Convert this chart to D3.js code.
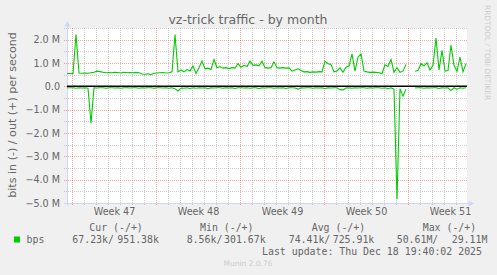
<!DOCTYPE html>
<html lang="en">
<head>
<meta charset="UTF-8">
<title>vz-trick traffic - by month</title>
<script src="https://d3js.org/d3.v7.min.js"></script>
<style>
  body { margin: 0; background: #f0f0f0; }
  svg { display: block; font-family: "DejaVu Sans", sans-serif; }
  .mono { font-family: "DejaVu Sans Mono", monospace; white-space: pre; }
</style>
</head>
<body>
<div class="main"></div>
<script>
  // samples every 6 hours from Sun 16 Nov 2025 14:00, in Mbit/s
  var startTime = new Date(2025, 10, 16, 14, 0);
  var stepHours = 6;
  var spanHours = 800;

  var outValues = [
    0.55, 0.55, 0.55, 2.22, 0.57, 0.56, 0.57, 0.56, 0.58, 0.60,
    0.65, 0.63, 0.60, 0.58, 0.59, 0.58, 0.60, 0.59, 0.57, 0.60,
    0.58, 0.59, 0.58, 0.60, 0.58, 0.53, 0.52, 0.54, 0.50, 0.56,
    0.57, 0.58, 0.59, 0.57, 0.58, 0.62, 2.22, 0.62, 0.70, 0.62,
    0.72, 0.66, 0.88, 0.55, 0.80, 1.08, 0.75, 0.78, 0.72, 1.15,
    0.80, 0.85, 0.78, 0.80, 0.76, 0.80, 0.78, 0.97, 0.82, 0.90,
    0.85, 1.08, 0.90, 0.92, 0.88, 1.08, 0.80, 0.78, 0.80, 1.05,
    0.80, 0.78, 0.80, 0.78, 0.79, 0.65, 0.70, 0.75, 0.68, 0.62,
    0.63, 0.60, 0.62, 0.61, 0.63, 0.62, 1.08, 0.97, 0.94, 0.62,
    0.66, 0.79, 0.60, 0.82, 0.87, 1.39, 0.65, 1.25, 1.39, 0.65,
    0.62, 0.60, 0.61, 0.60, 0.58, 0.55, 0.92, 0.85, 1.15, 0.60,
    0.80, 0.60, 0.65, 0.94, null, null, 0.65, 0.68, 0.97, 0.88,
    1.01, 0.70, 0.90, 2.07, 0.70, 1.54, 0.65, 0.68, 1.77, 0.90,
    0.64, 1.25, 0.62, 0.97
  ];

  // incoming traffic, drawn below zero
  var inValues = [
    0.06, 0.06, 0.06, 0.08, 0.06, 0.07, 0.06, 0.08, 1.58, 0.06,
    0.07, 0.06, 0.06, 0.08, 0.06, 0.06, 0.07, 0.06, 0.08, 0.06,
    0.06, 0.07, 0.06, 0.06, 0.08, 0.06, 0.07, 0.06, 0.06, 0.08,
    0.06, 0.06, 0.07, 0.06, 0.08, 0.06, 0.10, 0.20, 0.07, 0.08,
    0.06, 0.09, 0.06, 0.08, 0.06, 0.07, 0.06, 0.10, 0.06, 0.07,
    0.06, 0.06, 0.08, 0.06, 0.07, 0.06, 0.09, 0.06, 0.06, 0.07,
    0.06, 0.08, 0.06, 0.06, 0.10, 0.06, 0.07, 0.06, 0.06, 0.08,
    0.06, 0.07, 0.06, 0.09, 0.06, 0.06, 0.07, 0.12, 0.06, 0.07,
    0.06, 0.06, 0.08, 0.06, 0.07, 0.06, 0.10, 0.06, 0.07, 0.06,
    0.06, 0.14, 0.15, 0.07, 0.06, 0.08, 0.06, 0.07, 0.06, 0.06,
    0.08, 0.06, 0.07, 0.06, 0.06, 0.08, 0.06, 0.10, 0.06, 0.12,
    4.84, 0.10, 0.42, 0.12, null, null, 0.07, 0.06, 0.06, 0.08,
    0.06, 0.07, 0.06, 0.06, 0.09, 0.06, 0.07, 0.06, 0.18, 0.06,
    0.12, 0.06, 0.08, 0.06
  ];

  var yTicks = [2, 1, 0, -1, -2, -3, -4, -5];
  var weekLabels = ["Week 47", "Week 48", "Week 49", "Week 50", "Week 51"];
  var weekStarts = [new Date(2025, 10, 17), new Date(2025, 10, 24), new Date(2025, 11, 1),
                    new Date(2025, 11, 8), new Date(2025, 11, 15)];

  var legendHeaders = ["Cur (-/+)", "Min (-/+)", "Avg (-/+)", "Max (-/+)"];
  var legendIn = ["67.23k/", "8.56k/", "74.41k/", "50.61M/"];
  var legendOut = ["951.38k", "301.67k", "725.91k", "29.11M"];

  var width = 497, height = 275;
  var fontColor = "#666666";
  var lineColor = "#00cc00";

  var endTime = new Date(startTime.getTime() + spanHours * 3600e3);
  var x = d3.scaleTime().domain([startTime, endTime]).range([67, 467]);
  var y = d3.scaleLinear().domain([-5, 2.5]).range([203, 28]);

  function toPoints(values, sign) {
    return values.map(function (v, i) {
      return { t: new Date(startTime.getTime() + i * stepHours * 3600e3), v: v == null ? null : sign * v };
    });
  }

  var svg = d3.select(".main").append("svg")
    .attr("width", width).attr("height", height);

  svg.append("rect").attr("width", width).attr("height", height).attr("fill", "#f0f0f0");
  svg.append("rect").attr("x", 67).attr("y", 28).attr("width", 400).attr("height", 175).attr("fill", "#ffffff");

  // grid - half-million rows, day columns, red on whole millions / mondays
  var gridG = svg.append("g").attr("stroke-dasharray", "1,1").attr("stroke-width", 1);
  d3.range(-10, 6).forEach(function (k) {
    var v = k / 2;
    var major = Number.isInteger(v);
    gridG.append("line")
      .attr("x1", 64).attr("x2", 467)
      .attr("y1", Math.round(y(v)) + 0.5).attr("y2", Math.round(y(v)) + 0.5)
      .attr("stroke", major ? "rgba(255,0,0,0.37)" : "rgba(128,128,128,0.37)");
  });
  d3.timeDay.range(startTime, endTime).forEach(function (d) {
    var major = d.getDay() === 1;
    gridG.append("line")
      .attr("x1", Math.round(x(d)) + 0.5).attr("x2", Math.round(x(d)) + 0.5)
      .attr("y1", 28).attr("y2", 206)
      .attr("stroke", major ? "rgba(255,0,0,0.37)" : "rgba(128,128,128,0.37)");
  });

  // axes with arrows
  var axisColor = "#cfd6f8";
  svg.append("line").attr("x1", 67.5).attr("x2", 67.5).attr("y1", 206).attr("y2", 24).attr("stroke", axisColor);
  svg.append("path").attr("d", "M64.5,26.5L70.5,26.5L67.5,21Z").attr("fill", axisColor);
  svg.append("line").attr("x1", 64).attr("x2", 470).attr("y1", 203.5).attr("y2", 203.5).attr("stroke", axisColor);
  svg.append("path").attr("d", "M468.5,200.5L468.5,206.5L474,203.5Z").attr("fill", axisColor);

  // zero line
  svg.append("line").attr("x1", 67).attr("x2", 467)
    .attr("y1", y(0)).attr("y2", y(0))
    .attr("stroke", "#000000").attr("stroke-width", 1.5);

  var line = d3.line()
    .defined(function (d) { return d.v != null; })
    .x(function (d) { return x(d.t); })
    .y(function (d) { return y(d.v); });

  [toPoints(outValues, 1), toPoints(inValues, -1)].forEach(function (pts) {
    svg.append("path").datum(pts)
      .attr("d", line)
      .attr("fill", "none")
      .attr("stroke", lineColor)
      .attr("stroke-width", 1.1)
      .attr("stroke-linejoin", "miter");
  });

  // y axis labels
  var yAxis = d3.axisLeft(y).tickValues(yTicks).tickSize(0).tickPadding(7)
    .tickFormat(function (v) { return v === 0 ? "0.0" : d3.format(".1f")(v) + " M"; });
  var yG = svg.append("g").attr("transform", "translate(67,0)").call(yAxis);
  yG.select(".domain").remove();
  yG.selectAll("text").attr("fill", fontColor).style("font-size", "9.6px")
    .style("font-family", "'DejaVu Sans', sans-serif");

  // x axis week labels, centred in each week
  var weekMid = weekStarts.map(function (d) { return new Date(d.getTime() + 3.5 * 864e5); });
  var xAxis = d3.axisBottom(d3.scaleTime().domain(x.domain()).range(x.range()))
    .tickValues(weekMid).tickSize(0).tickPadding(5)
    .tickFormat(function (d, i) { return weekLabels[i]; });
  var xG = svg.append("g").attr("transform", "translate(0,203)").call(xAxis);
  xG.select(".domain").remove();
  xG.selectAll("text").attr("fill", fontColor).style("font-size", "9.6px")
    .style("font-family", "'DejaVu Sans', sans-serif");

  // titles
  svg.append("text").attr("x", 248).attr("y", 24).attr("text-anchor", "middle")
    .attr("fill", fontColor).style("font-size", "12.5px").text("vz-trick traffic - by month");
  svg.append("text").attr("transform", "translate(15.5,115) rotate(-90)").attr("text-anchor", "middle")
    .attr("fill", fontColor).style("font-size", "11.1px").text("bits in (-) / out (+) per second");
  svg.append("text").attr("transform", "translate(485,5) rotate(90)")
    .attr("fill", "#cccccc").style("font-size", "7.4px").text("RRDTOOL / TOBI OETIKER");

  // legend
  var headerX = [89.3, 200, 311.7, 422.7];
  var inX = [72.3, 186.7, 288.7, 396.7];
  var outX = [117.3, 224, 332.7, 451.7];
  var legG = svg.append("g").attr("class", "mono").attr("fill", fontColor).style("font-size", "9.9px");
  legendHeaders.forEach(function (h, i) {
    legG.append("text").attr("x", headerX[i]).attr("y", 230.5).text(h);
    legG.append("text").attr("x", inX[i]).attr("y", 242.5).text(legendIn[i]);
    legG.append("text").attr("x", outX[i]).attr("y", 242.5).text(legendOut[i]);
  });
  svg.append("rect").attr("x", 14).attr("y", 236.5).attr("width", 6).attr("height", 6).attr("fill", lineColor);
  legG.append("text").attr("x", 26.5).attr("y", 242.5).text("bps");
  legG.append("text").attr("x", 482).attr("y", 254.5).attr("text-anchor", "end")
    .text("Last update: Thu Dec 18 19:40:02 2025");

  svg.append("text").attr("x", 248).attr("y", 266).attr("text-anchor", "middle")
    .attr("fill", "#cccccc").style("font-size", "7.5px").text("Munin 2.0.76");
</script>
</body>
</html>
